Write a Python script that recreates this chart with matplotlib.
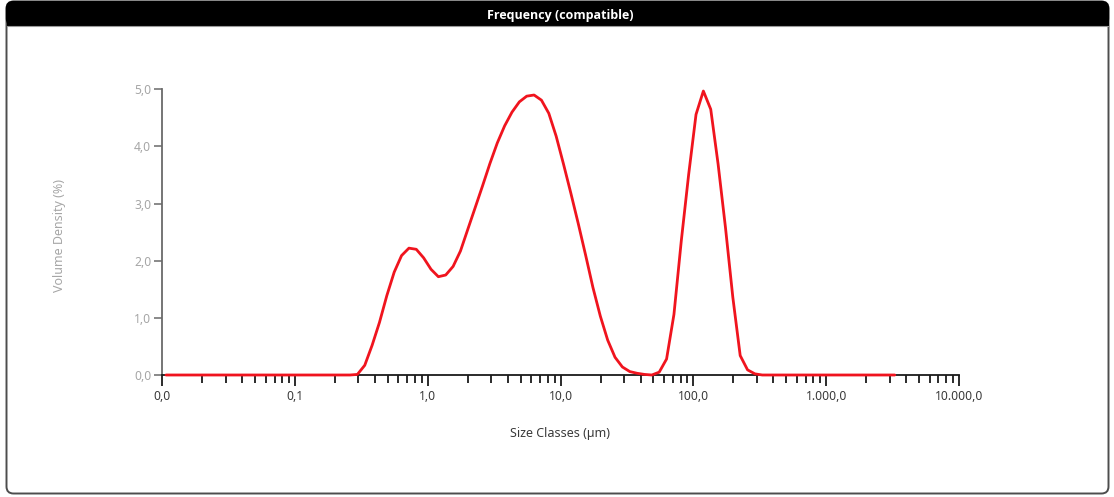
import matplotlib
matplotlib.use("Agg")
import matplotlib.pyplot as plt
from matplotlib.patches import FancyBboxPatch, Rectangle
from matplotlib.ticker import FuncFormatter, LogLocator, NullFormatter

# Size class centres (µm), log-spaced from 0.01 to 3500 µm
size_classes = [
    0.01066, 0.01211, 0.01376, 0.01563, 0.01776, 0.02018, 0.02293, 0.02605, 0.02960, 0.03363,
    0.03821, 0.04341, 0.04932, 0.05604, 0.06367, 0.07234, 0.08219, 0.09338, 0.1061, 0.1205,
    0.1369, 0.1556, 0.1768, 0.2008, 0.2282, 0.2593, 0.2946, 0.3347, 0.3803, 0.4320,
    0.4909, 0.5577, 0.6337, 0.7200, 0.8180, 0.9294, 1.056, 1.200, 1.363, 1.549,
    1.760, 1.999, 2.272, 2.581, 2.932, 3.332, 3.785, 4.300, 4.886, 5.551,
    6.307, 7.166, 8.141, 9.250, 10.51, 11.94, 13.57, 15.41, 17.51, 19.90,
    22.61, 25.68, 29.18, 33.16, 37.67, 42.80, 48.63, 55.25, 62.77, 71.32,
    81.03, 92.06, 104.6, 118.8, 135.0, 153.4, 174.3, 198.0, 225.0, 255.6,
    290.4, 329.9, 374.9, 425.9, 483.9, 549.8, 624.6, 709.7, 806.3, 916.1,
    1041, 1183, 1344, 1527, 1735, 1971, 2239, 2544, 2891, 3284,
]

# Volume density (%) per size class
volume_density = [
    0, 0, 0, 0, 0, 0, 0, 0, 0, 0,
    0, 0, 0, 0, 0, 0, 0, 0, 0, 0,
    0, 0, 0, 0, 0, 0, 0.01, 0.17, 0.52, 0.92,
    1.39, 1.80, 2.09, 2.22, 2.20, 2.05, 1.85, 1.72, 1.75, 1.90,
    2.17, 2.55, 2.93, 3.31, 3.70, 4.06, 4.36, 4.60, 4.78, 4.88,
    4.90, 4.81, 4.58, 4.18, 3.69, 3.18, 2.65, 2.10, 1.53, 1.03,
    0.61, 0.31, 0.14, 0.06, 0.03, 0.01, 0.0, 0.05, 0.28, 1.06,
    2.35, 3.51, 4.56, 4.97, 4.65, 3.69, 2.58, 1.36, 0.34, 0.09,
    0.02, 0, 0, 0, 0, 0, 0, 0, 0, 0,
    0, 0, 0, 0, 0, 0, 0, 0, 0, 0,
]

x_ticks = [0.01, 0.1, 1, 10, 100, 1000, 10000]
y_ticks = [0, 1, 2, 3, 4, 5]

title = "Frequency (compatible)"
x_label = "Size Classes (µm)"
y_label = "Volume Density (%)"

FONT = ["Noto Sans", "DejaVu Sans"]
plt.rcParams["font.family"] = FONT

W, H = 1114, 497
fig = plt.figure(figsize=(W / 100, H / 100), dpi=100)

# Background panel drawn in pixel units
bg = fig.add_axes([0, 0, 1, 1], zorder=0)
bg.set_xlim(0, W)
bg.set_ylim(H, 0)
bg.axis("off")
panel = FancyBboxPatch((6.5, 1.5), 1102, 492, boxstyle="round,pad=0,rounding_size=7",
                       facecolor="white", edgecolor="#4d4d4d", linewidth=1.4)
bg.add_patch(panel)
bar = FancyBboxPatch((6.5, 1.5), 1102, 24, boxstyle="round,pad=0,rounding_size=7",
                     facecolor="black", edgecolor="black", linewidth=1.0)
bg.add_patch(bar)
bg.add_patch(Rectangle((6.5, 14), 1102, 11.5, facecolor="black", edgecolor="none"))
bg.plot([7, 1108], [26, 26], color="#9a9a9a", linewidth=0.8)
bg.text(560, 15, title, color="white", fontsize=9, fontweight="bold",
        ha="center", va="center", family=["Open Sans", "DejaVu Sans"])

# Main plot area
left, right = 162.3 / W, 959 / W
bottom, top = 1 - 375 / H, 1 - 89.3 / H
ax = fig.add_axes([left, bottom, right - left, top - bottom], zorder=1)
ax.patch.set_alpha(0)

ax.plot(size_classes, volume_density, color="#f0141e", linewidth=2.0,
        solid_joinstyle="round", solid_capstyle="round", clip_on=False, zorder=3)

ax.set_xscale("log")
ax.set_xlim(0.01, 10000)
ax.set_ylim(0, 5)

ax.set_xticks(x_ticks)
ax.xaxis.set_minor_locator(LogLocator(base=10, subs=[2, 3, 4, 5, 6, 7, 8, 9], numticks=20))
ax.xaxis.set_minor_formatter(NullFormatter())


def de_format(v, pos=None):
    s = f"{v:,.1f}"
    return s.replace(",", "X").replace(".", ",").replace("X", ".")


ax.xaxis.set_major_formatter(FuncFormatter(de_format))
ax.set_yticks(y_ticks)
ax.yaxis.set_major_formatter(FuncFormatter(lambda v, p: f"{v:.1f}".replace(".", ",")))

for s in ("top", "right"):
    ax.spines[s].set_visible(False)
ax.spines["bottom"].set_color("#1a1a1a")
ax.spines["bottom"].set_linewidth(1.3)
ax.spines["left"].set_color("#6a6a6a")
ax.spines["left"].set_linewidth(1.3)

ax.tick_params(axis="x", which="major", direction="out", length=8, width=1.3,
               color="#1a1a1a", labelsize=8.7, labelcolor="#3a3a3a", pad=3)
ax.tick_params(axis="x", which="minor", direction="out", length=6, width=1.3,
               color="#1a1a1a")
ax.tick_params(axis="y", which="major", direction="out", length=6, width=1.1,
               color="#6a6a6a", labelsize=8.7, labelcolor="#a6a6a6", pad=2)

fig.text(560 / W, 1 - 433 / H, x_label, ha="center", va="center",
         fontsize=9, color="#3a3a3a")
fig.text(60 / W, 1 - 236 / H, y_label, ha="center", va="center",
         rotation=90, fontsize=9, color="#a6a6a6")

fig.savefig("out.png", dpi=100)
